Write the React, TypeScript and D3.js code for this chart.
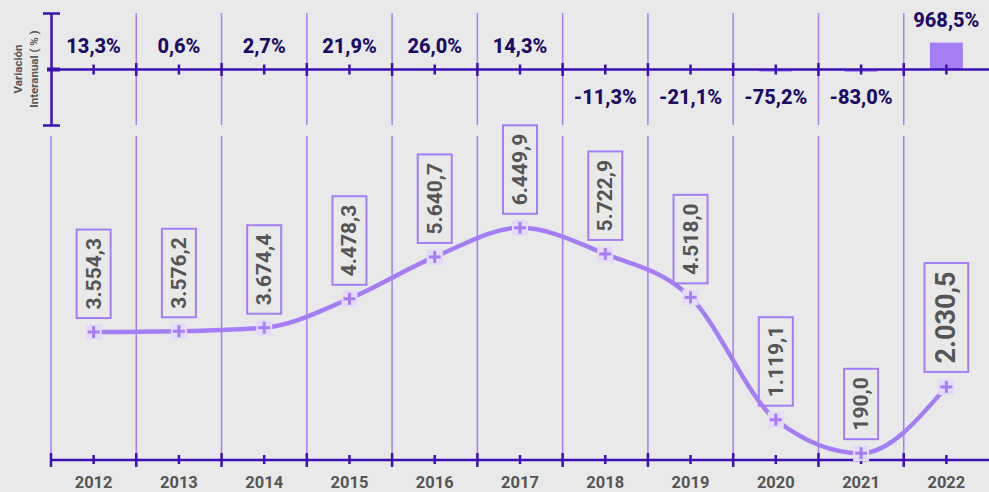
import React, { useEffect, useRef } from 'react';
import * as d3 from 'd3';

const years = ['2012', '2013', '2014', '2015', '2016', '2017', '2018', '2019', '2020', '2021', '2022'];
const values = [3554.3, 3576.2, 3674.4, 4478.3, 5640.7, 6449.9, 5722.9, 4518.0, 1119.1, 190.0, 2030.5];
const valueLabels = ['3.554,3', '3.576,2', '3.674,4', '4.478,3', '5.640,7', '6.449,9', '5.722,9', '4.518,0', '1.119,1', '190,0', '2.030,5'];
const changes = [13.3, 0.6, 2.7, 21.9, 26.0, 14.3, -11.3, -21.1, -75.2, -83.0, 968.5];
const changeLabels = ['13,3%', '0,6%', '2,7%', '21,9%', '26,0%', '14,3%', '-11,3%', '-21,1%', '-75,2%', '-83,0%', '968,5%'];

const W = 989;
const H = 492;
const BG = '#e9e9e9';
const DARK = '#3d10b4';
const LIGHT = '#a57ef6';
const NAVY = '#1b0b66';
const GRAY = '#555555';
const MARK_BG = '#e4daf9';
const FONT = 'Roboto, "Noto Sans", sans-serif';

export default function App() {
  const ref = useRef<SVGSVGElement>(null);

  useEffect(() => {
    const svg = d3.select(ref.current);
    svg.selectAll('*').remove();

    const x = d3.scaleBand<string>().domain(years).range([51, 989]).paddingInner(0).paddingOuter(0);
    const bw = x.bandwidth();
    const cx = (y: string) => (x(y) as number) + bw / 2;
    const yTop = d3.scaleLinear().domain([-2000, 2000]).range([125, 14]);
    const y = d3.scaleLinear().domain([0, 7000]).range([460, 208]);

    svg.append('rect').attr('width', W).attr('height', H).attr('fill', BG);

    // vertical divider lines
    years.forEach((yr, i) => {
      const xx = x(yr) as number;
      if (i > 0) {
        svg.append('line').attr('x1', xx).attr('x2', xx).attr('y1', 13).attr('y2', 125)
          .attr('stroke', LIGHT).attr('stroke-width', 1.5);
      }
      svg.append('line').attr('x1', xx).attr('x2', xx).attr('y1', 136).attr('y2', 460)
        .attr('stroke', LIGHT).attr('stroke-width', 1.5);
    });

    // top bars
    const z0 = yTop(0);
    svg.selectAll('.bar').data(changes).enter().append('rect')
      .attr('x', (d, i) => cx(years[i]) - 16.5)
      .attr('width', 33)
      .attr('y', (d) => Math.min(yTop(d), z0))
      .attr('height', (d) => Math.abs(yTop(d) - z0))
      .attr('fill', LIGHT);

    // top axis
    svg.append('line').attr('x1', 51.5).attr('x2', 51.5).attr('y1', 13.5).attr('y2', 125.5)
      .attr('stroke', DARK).attr('stroke-width', 2.5);
    [13.5, 125.5].forEach((yy) => {
      svg.append('line').attr('x1', 43).attr('x2', 60).attr('y1', yy).attr('y2', yy)
        .attr('stroke', DARK).attr('stroke-width', 2.5);
    });
    svg.append('line').attr('x1', 51).attr('x2', 989).attr('y1', z0).attr('y2', z0)
      .attr('stroke', DARK).attr('stroke-width', 2.5);
    svg.append('line').attr('x1', 47).attr('x2', 60).attr('y1', z0).attr('y2', z0)
      .attr('stroke', DARK).attr('stroke-width', 4);
    years.forEach((yr, i) => {
      const xx = x(yr) as number;
      if (i > 0) {
        svg.append('line').attr('x1', xx).attr('x2', xx).attr('y1', z0 - 6.5).attr('y2', z0 + 6.5)
          .attr('stroke', DARK).attr('stroke-width', 2.5);
      }
      svg.append('line').attr('x1', cx(yr)).attr('x2', cx(yr)).attr('y1', z0 - 5).attr('y2', z0 + 5)
        .attr('stroke', DARK).attr('stroke-width', 2.5);
    });

    // percentage labels
    svg.selectAll('.pct').data(changes).enter().append('text')
      .attr('x', (d, i) => cx(years[i]))
      .attr('y', (d) => (d >= 0 ? Math.min(54, yTop(d) - 16) : 104))
      .attr('text-anchor', 'middle')
      .attr('font-family', FONT).attr('font-weight', 800).attr('font-size', 20)
      .attr('fill', NAVY)
      .text((d, i) => changeLabels[i]);

    // rotated axis title
    const tg = svg.append('g').attr('transform', 'translate(0,69)');
    [['Variación', 22], ['Interanual ( % )', 38]].forEach(([t, xx]) => {
      tg.append('text').attr('transform', `translate(${xx},0) rotate(-90)`)
        .attr('text-anchor', 'middle')
        .attr('font-family', FONT).attr('font-weight', 700).attr('font-size', 11.5)
        .attr('fill', GRAY).text(t as string);
    });

    // bottom axis
    svg.append('line').attr('x1', 51).attr('x2', 989).attr('y1', 460).attr('y2', 460)
      .attr('stroke', DARK).attr('stroke-width', 2.5);
    years.forEach((yr) => {
      const xx = x(yr) as number;
      svg.append('line').attr('x1', xx).attr('x2', xx).attr('y1', 453).attr('y2', 467)
        .attr('stroke', DARK).attr('stroke-width', 2.5);
      svg.append('line').attr('x1', cx(yr)).attr('x2', cx(yr)).attr('y1', 455).attr('y2', 464)
        .attr('stroke', DARK).attr('stroke-width', 2.5);
      svg.append('text').attr('x', cx(yr)).attr('y', 488).attr('text-anchor', 'middle')
        .attr('font-family', FONT).attr('font-weight', 700).attr('font-size', 16.5)
        .attr('fill', GRAY).text(yr);
    });

    // line
    const pts: [number, number][] = values.map((v, i) => [cx(years[i]), y(v)]);
    const line = d3.line().curve(d3.curveMonotoneX);
    svg.append('path').attr('d', line(pts) as string).attr('fill', 'none')
      .attr('stroke', LIGHT).attr('stroke-width', 4.5).attr('stroke-linecap', 'round');

    // markers
    pts.forEach(([px, py]) => {
      svg.append('rect').attr('x', px - 8).attr('y', py - 8).attr('width', 16).attr('height', 16)
        .attr('fill', MARK_BG);
      svg.append('line').attr('x1', px - 6).attr('x2', px + 6).attr('y1', py).attr('y2', py)
        .attr('stroke', LIGHT).attr('stroke-width', 3);
      svg.append('line').attr('x1', px).attr('x2', px).attr('y1', py - 6).attr('y2', py + 6)
        .attr('stroke', LIGHT).attr('stroke-width', 3);
    });

    // value labels
    values.forEach((v, i) => {
      const big = i === values.length - 1;
      const fs = big ? 27 : 21;
      const px = cx(years[i]);
      const bottom = y(v) - (big ? 15 : 14);
      const g = svg.append('g');
      const t = g.append('text')
        .attr('transform', `translate(${px},${bottom - 8.5}) rotate(-90)`)
        .attr('dominant-baseline', 'central')
        .attr('font-family', FONT).attr('font-weight', 700).attr('font-size', fs)
        .attr('fill', GRAY).text(valueLabels[i]);
      const len = (t.node() as SVGTextElement).getComputedTextLength();
      const bwid = fs * 1.62;
      g.insert('rect', 'text')
        .attr('x', px - bwid / 2).attr('y', bottom - len - 17)
        .attr('width', bwid).attr('height', len + 17)
        .attr('fill', 'none').attr('stroke', LIGHT).attr('stroke-width', 2);
    });
  }, []);

  return (
    <svg ref={ref} width={W} height={H}
      style={{ position: 'absolute', left: 0, top: 0, display: 'block' }} />
  );
}
